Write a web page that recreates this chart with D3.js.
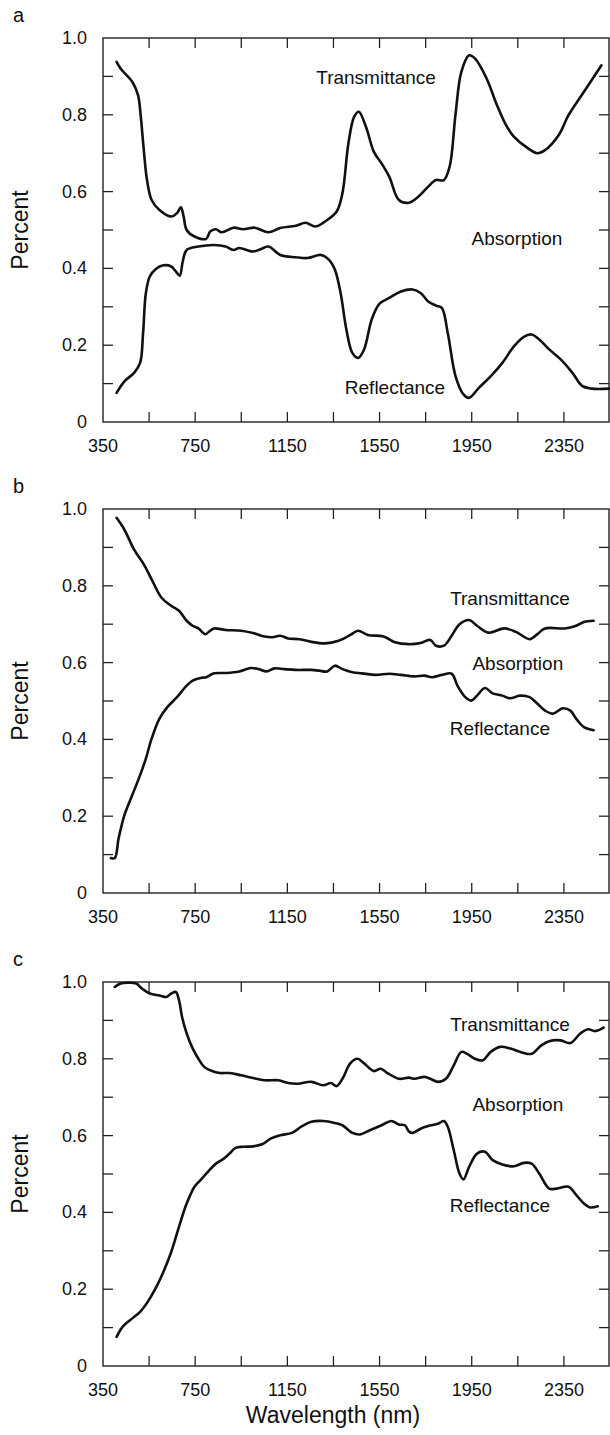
<!DOCTYPE html>
<html>
<head>
<meta charset="utf-8">
<script src="https://cdn.jsdelivr.net/npm/d3@7"></script>
<style>
  body { margin:0; background:#fff; }
  svg text { font-family: "Liberation Sans", Arial, Helvetica, sans-serif; fill:#111; }
</style>
</head>
<body>
<svg id="chart" width="610" height="1435"></svg>
<script>
// wavelength ticks and labels
const xTicks = [550, 750, 950, 1150, 1350, 1550, 1750, 1950, 2150, 2350];
const xLabels = [350, 750, 1150, 1550, 1950, 2350];
const yTicks = [0.1, 0.2, 0.3, 0.4, 0.5, 0.6, 0.7, 0.8, 0.9];
const yLabels = [0, 0.2, 0.4, 0.6, 0.8, 1.0];
const panelNames = ['a', 'b', 'c'];
const seriesNames = ['Transmittance', 'Absorption', 'Reflectance'];

// panel a  [nm, value]
const transA = [[409,0.938],[427,0.92],[477,0.886],[502,0.851],[514,0.795],[527,0.708],[541,0.63],[561,0.578],[595,0.552],[646,0.535],[671,0.544],[688,0.559],[700,0.535],[713,0.5],[747,0.483],[798,0.477],[815,0.496],[840,0.502],[865,0.494],[916,0.506],[958,0.502],[1009,0.506],[1068,0.494],[1119,0.505],[1187,0.511],[1229,0.519],[1271,0.509],[1313,0.522],[1364,0.548],[1389,0.596],[1415,0.726],[1440,0.795],[1460,0.808],[1491,0.769],[1525,0.704],[1558,0.674],[1592,0.639],[1634,0.578],[1677,0.571],[1719,0.587],[1761,0.613],[1795,0.63],[1829,0.63],[1854,0.665],[1880,0.803],[1905,0.912],[1939,0.955],[1964,0.947],[2015,0.894],[2057,0.829],[2099,0.773],[2133,0.743],[2184,0.717],[2235,0.7],[2268,0.708],[2327,0.747],[2370,0.799],[2437,0.86],[2513,0.929]];
const reflA = [[409,0.076],[443,0.106],[485,0.128],[511,0.154],[524,0.232],[536,0.336],[553,0.379],[578,0.398],[612,0.408],[646,0.405],[666,0.392],[683,0.381],[696,0.418],[713,0.448],[764,0.457],[832,0.461],[882,0.457],[916,0.448],[941,0.453],[1001,0.444],[1034,0.45],[1068,0.457],[1119,0.435],[1187,0.429],[1237,0.427],[1296,0.435],[1330,0.423],[1356,0.397],[1381,0.336],[1406,0.241],[1432,0.18],[1457,0.167],[1483,0.189],[1516,0.267],[1550,0.308],[1592,0.323],[1643,0.34],[1694,0.345],[1728,0.336],[1761,0.314],[1795,0.303],[1820,0.297],[1846,0.232],[1880,0.119],[1914,0.072],[1939,0.063],[1981,0.089],[2032,0.119],[2083,0.154],[2133,0.197],[2176,0.222],[2210,0.228],[2243,0.215],[2286,0.189],[2336,0.163],[2387,0.128],[2429,0.094],[2471,0.087],[2547,0.087]];

// panel b
const transB = [[409,0.977],[443,0.946],[485,0.894],[527,0.856],[561,0.817],[604,0.769],[646,0.748],[680,0.735],[713,0.709],[739,0.696],[764,0.689],[794,0.674],[815,0.683],[832,0.689],[882,0.685],[950,0.683],[1001,0.677],[1051,0.668],[1085,0.666],[1119,0.67],[1153,0.663],[1204,0.661],[1254,0.654],[1313,0.65],[1372,0.657],[1423,0.672],[1457,0.683],[1499,0.672],[1567,0.668],[1617,0.653],[1677,0.648],[1728,0.651],[1770,0.659],[1795,0.644],[1829,0.644],[1863,0.67],[1897,0.7],[1939,0.711],[1973,0.696],[2023,0.678],[2091,0.689],[2142,0.68],[2201,0.661],[2235,0.674],[2268,0.689],[2353,0.689],[2403,0.696],[2437,0.706],[2479,0.709]];
const reflB = [[384,0.091],[401,0.091],[418,0.143],[443,0.203],[477,0.255],[511,0.307],[536,0.35],[561,0.402],[595,0.454],[629,0.484],[671,0.51],[713,0.54],[739,0.553],[773,0.56],[798,0.562],[832,0.572],[882,0.573],[941,0.577],[992,0.586],[1026,0.583],[1060,0.577],[1094,0.585],[1136,0.583],[1187,0.581],[1254,0.581],[1288,0.579],[1322,0.577],[1356,0.592],[1389,0.583],[1432,0.575],[1474,0.572],[1533,0.568],[1592,0.571],[1643,0.568],[1702,0.564],[1745,0.566],[1778,0.562],[1820,0.568],[1863,0.571],[1888,0.54],[1922,0.51],[1947,0.501],[1973,0.514],[2007,0.534],[2041,0.52],[2083,0.514],[2117,0.507],[2159,0.514],[2201,0.51],[2235,0.493],[2268,0.475],[2302,0.467],[2345,0.481],[2378,0.475],[2403,0.454],[2437,0.432],[2479,0.424]];

// panel c
const transC = [[401,0.987],[426,0.996],[460,0.998],[494,0.996],[519,0.983],[553,0.97],[595,0.965],[625,0.961],[646,0.97],[666,0.974],[680,0.952],[693,0.909],[713,0.866],[739,0.827],[764,0.8],[789,0.779],[823,0.768],[857,0.763],[899,0.763],[950,0.757],[1001,0.75],[1051,0.744],[1111,0.744],[1153,0.737],[1195,0.735],[1254,0.74],[1305,0.731],[1339,0.737],[1364,0.729],[1389,0.748],[1423,0.788],[1454,0.8],[1483,0.788],[1525,0.768],[1555,0.774],[1584,0.763],[1634,0.748],[1677,0.751],[1702,0.748],[1745,0.753],[1770,0.748],[1804,0.74],[1838,0.748],[1872,0.783],[1905,0.818],[1930,0.813],[1964,0.8],[1998,0.796],[2032,0.818],[2074,0.831],[2117,0.827],[2176,0.815],[2210,0.813],[2252,0.835],[2286,0.846],[2336,0.848],[2378,0.841],[2421,0.866],[2455,0.877],[2485,0.872],[2522,0.881]];
const reflC = [[409,0.076],[435,0.102],[477,0.124],[511,0.141],[544,0.167],[578,0.202],[612,0.245],[646,0.297],[680,0.363],[713,0.423],[747,0.467],[773,0.484],[806,0.506],[840,0.527],[874,0.54],[899,0.553],[925,0.568],[958,0.571],[1001,0.572],[1043,0.578],[1077,0.592],[1119,0.601],[1170,0.607],[1212,0.624],[1254,0.636],[1305,0.638],[1356,0.633],[1389,0.627],[1432,0.607],[1466,0.603],[1508,0.614],[1559,0.627],[1601,0.638],[1634,0.629],[1660,0.627],[1677,0.611],[1694,0.607],[1728,0.618],[1761,0.625],[1804,0.631],[1829,0.638],[1846,0.623],[1872,0.562],[1897,0.501],[1914,0.486],[1939,0.519],[1973,0.553],[2007,0.558],[2041,0.536],[2083,0.525],[2133,0.52],[2176,0.529],[2210,0.527],[2243,0.501],[2286,0.462],[2319,0.462],[2370,0.467],[2404,0.445],[2437,0.423],[2463,0.413],[2497,0.416]];

const panelTops = [38, 509, 982];
const plotH = 384, left = 103, right = 609;
const curves = [[transA, reflA], [transB, reflB], [transC, reflC]];
// label anchors in data units [nm, value] for Transmittance, Absorption, Reflectance
const labelPos = [
  [[1535, 0.898], [2146, 0.479], [1617, 0.091]],
  [[2116, 0.768], [2150, 0.599], [2072, 0.430]],
  [[2116, 0.890], [2150, 0.682], [2072, 0.419]]
];

const svg = d3.select('#chart');
const x = d3.scaleLinear().domain([350, 2550]).range([left, right + 1]);

panelNames.forEach((name, i) => {
  const top = panelTops[i];
  const y = d3.scaleLinear().domain([0, 1]).range([top + plotH, top]);
  const g = svg.append('g');

  // frame
  g.append('rect').attr('x', left).attr('y', top).attr('width', right - left).attr('height', plotH)
    .attr('fill', 'none').attr('stroke', '#222').attr('stroke-width', 1.4);

  // inward ticks
  const tk = 10;
  g.selectAll('line.xb').data(xTicks).join('line')
    .attr('x1', d => x(d)).attr('x2', d => x(d)).attr('y1', top + plotH).attr('y2', top + plotH - tk)
    .attr('stroke', '#222').attr('stroke-width', 1.3);
  g.selectAll('line.xt').data(xTicks).join('line')
    .attr('x1', d => x(d)).attr('x2', d => x(d)).attr('y1', top).attr('y2', top + tk)
    .attr('stroke', '#222').attr('stroke-width', 1.3);
  g.selectAll('line.yl').data(yTicks).join('line')
    .attr('x1', left).attr('x2', left + tk).attr('y1', d => y(d)).attr('y2', d => y(d))
    .attr('stroke', '#222').attr('stroke-width', 1.3);
  g.selectAll('line.yr').data(yTicks).join('line')
    .attr('x1', right).attr('x2', right - tk).attr('y1', d => y(d)).attr('y2', d => y(d))
    .attr('stroke', '#222').attr('stroke-width', 1.3);

  // tick labels
  g.selectAll('text.xl').data(xLabels).join('text')
    .attr('x', d => x(d)).attr('y', top + plotH + 30)
    .attr('text-anchor', 'middle').attr('font-size', 18).text(d => d);
  g.selectAll('text.yl').data(yLabels).join('text')
    .attr('x', left - 16).attr('y', d => y(d) + 6)
    .attr('text-anchor', 'end').attr('font-size', 18)
    .text(d => d === 0 ? '0' : d.toFixed(1));

  // panel letter + y title
  g.append('text').attr('x', 13).attr('y', top - 16).attr('font-size', 20).text(name);
  g.append('text').attr('transform', `translate(28,${top + plotH / 2}) rotate(-90)`)
    .attr('text-anchor', 'middle').attr('font-size', 23).text('Percent');

  // curves
  const line = d3.line().x(d => x(d[0])).y(d => y(d[1])).curve(d3.curveCatmullRom.alpha(0.5));
  curves[i].forEach(c => {
    g.append('path').datum(c).attr('d', line)
      .attr('fill', 'none').attr('stroke', '#111').attr('stroke-width', 2.6)
      .attr('stroke-linejoin', 'round').attr('stroke-linecap', 'round');
  });

  // series labels
  seriesNames.forEach((s, j) => {
    const p = labelPos[i][j];
    g.append('text').attr('x', x(p[0])).attr('y', y(p[1]) + 7)
      .attr('text-anchor', 'middle').attr('font-size', 19).text(s);
  });
});

svg.append('text').attr('x', 333).attr('y', 1423).attr('text-anchor', 'middle')
  .attr('font-size', 23).text('Wavelength (nm)');
</script>
</body>
</html>
